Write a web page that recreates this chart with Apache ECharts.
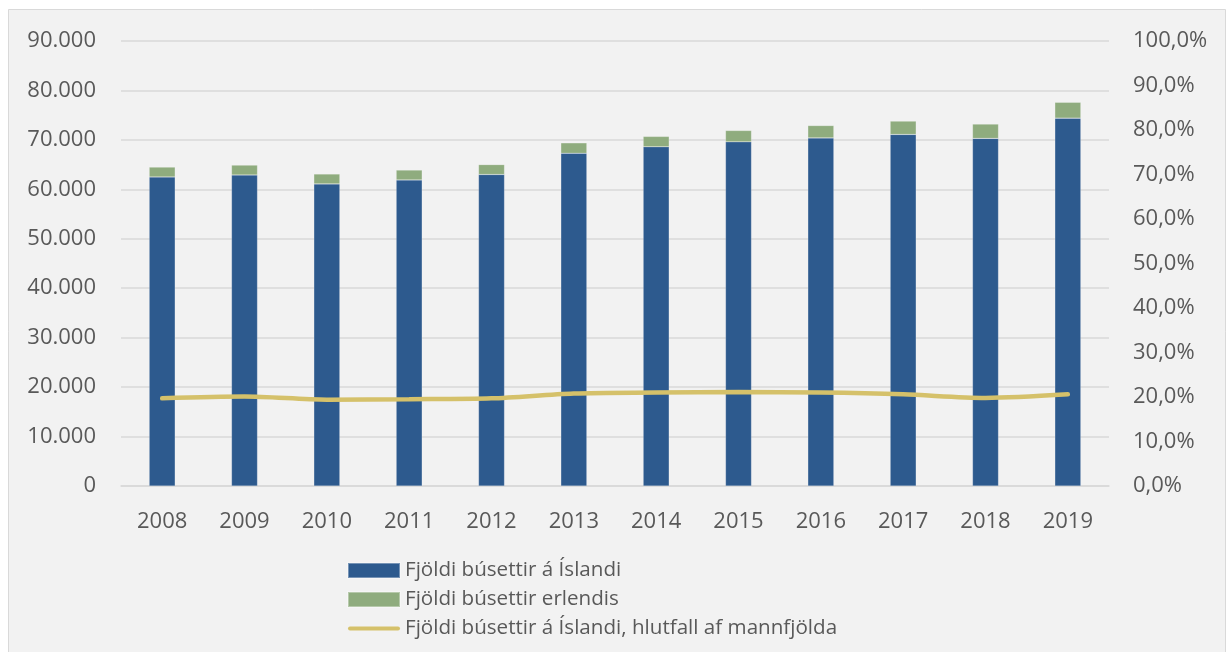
<!DOCTYPE html>
<html>
<head>
<meta charset="utf-8">
<script src="https://cdn.jsdelivr.net/npm/echarts@6/dist/echarts.min.js"></script>
<style>
html, body { margin: 0; padding: 0; background: #fff; }
#chart { width: 1227px; height: 652px; }
</style>
</head>
<body>
<div id="chart"></div>
<script>
var years = ["2008","2009","2010","2011","2012","2013","2014","2015","2016","2017","2018","2019"];
var iceland = [62500, 62900, 61100, 61900, 63000, 67300, 68600, 69600, 70400, 71100, 70300, 74400];
var abroad = [2000, 2000, 2000, 2000, 2000, 2100, 2100, 2300, 2500, 2700, 2900, 3200];
var sharePct = [19.7, 20.1, 19.4, 19.5, 19.7, 20.8, 21.0, 21.1, 21.0, 20.6, 19.8, 20.6];
var names = ["Fjöldi búsettir á Íslandi", "Fjöldi búsettir erlendis", "Fjöldi búsettir á Íslandi, hlutfall af mannfjölda"];

var textColor = "#595959";
var fontFam = "'Open Sans', 'Noto Sans', sans-serif";
var lineColor = "#d5c16a";

var chart = echarts.init(document.getElementById("chart"));
var option = {
    backgroundColor: "#fff",
    animation: false,
    textStyle: { fontFamily: fontFam, color: textColor },
    graphic: [{
        type: "rect",
        z: -10,
        silent: true,
        shape: { x: 8.5, y: 9.5, width: 1217, height: 660 },
        style: { fill: "#f2f2f2", stroke: "#d9d9d9", lineWidth: 1 }
    }],
    grid: { left: 121, right: 118, top: 41, height: 445 },
    legend: {
        orient: "vertical",
        left: 342,
        top: 555,
        itemWidth: 52,
        itemHeight: 15,
        itemGap: 8,
        textStyle: { fontSize: 20.6, color: textColor, fontFamily: fontFam, lineHeight: 21 },
        data: [
            { name: names[0], icon: "rect" },
            { name: names[1], icon: "rect" },
            { name: names[2], icon: "path://M2,0 L50,0 A2,2 0 0 1 50,4 L2,4 A2,2 0 0 1 2,0 Z", itemStyle: { color: lineColor } }
        ]
    },
    xAxis: {
        type: "category",
        data: years,
        axisTick: { show: false },
        axisLine: { show: true, lineStyle: { color: "#d9d9d9", width: 1.5 } },
        axisLabel: { color: textColor, fontSize: 22, margin: 25 }
    },
    yAxis: [
        {
            type: "value",
            min: 0,
            max: 90000,
            interval: 10000,
            axisLine: { show: false },
            axisTick: { show: false },
            splitLine: { lineStyle: { color: "#d9d9d9", width: 1.5 } },
            axisLabel: {
                color: textColor,
                fontSize: 22,
                margin: 25,
                formatter: function (v) {
                    return v === 0 ? "0" : String(v).replace(/\B(?=(\d{3})+(?!\d))/g, ".");
                }
            }
        },
        {
            type: "value",
            min: 0,
            max: 100,
            interval: 10,
            axisLine: { show: false },
            axisTick: { show: false },
            splitLine: { show: false },
            axisLabel: {
                color: textColor,
                fontSize: 22,
                margin: 24,
                formatter: function (v) {
                    return v.toFixed(1).replace(".", ",") + "%";
                }
            }
        }
    ],
    series: [
        {
            name: names[0],
            type: "bar",
            stack: "pop",
            barWidth: 26,
            itemStyle: { color: "#2d5a8e", borderColor: "rgba(255,255,255,0.35)", borderWidth: 0.5 },
            data: iceland
        },
        {
            name: names[1],
            type: "bar",
            stack: "pop",
            barWidth: 26,
            itemStyle: { color: "#8fac7e", borderColor: "rgba(255,255,255,0.35)", borderWidth: 0.5 },
            data: abroad
        },
        {
            name: names[2],
            type: "line",
            yAxisIndex: 1,
            smooth: 0.3,
            symbol: "none",
            lineStyle: { color: lineColor, width: 4.5, cap: "round" },
            itemStyle: { color: lineColor },
            data: sharePct
        }
    ]
};
chart.setOption(option);

window.onresize = function () {
    chart.resize();
};
</script>
</body>
</html>
